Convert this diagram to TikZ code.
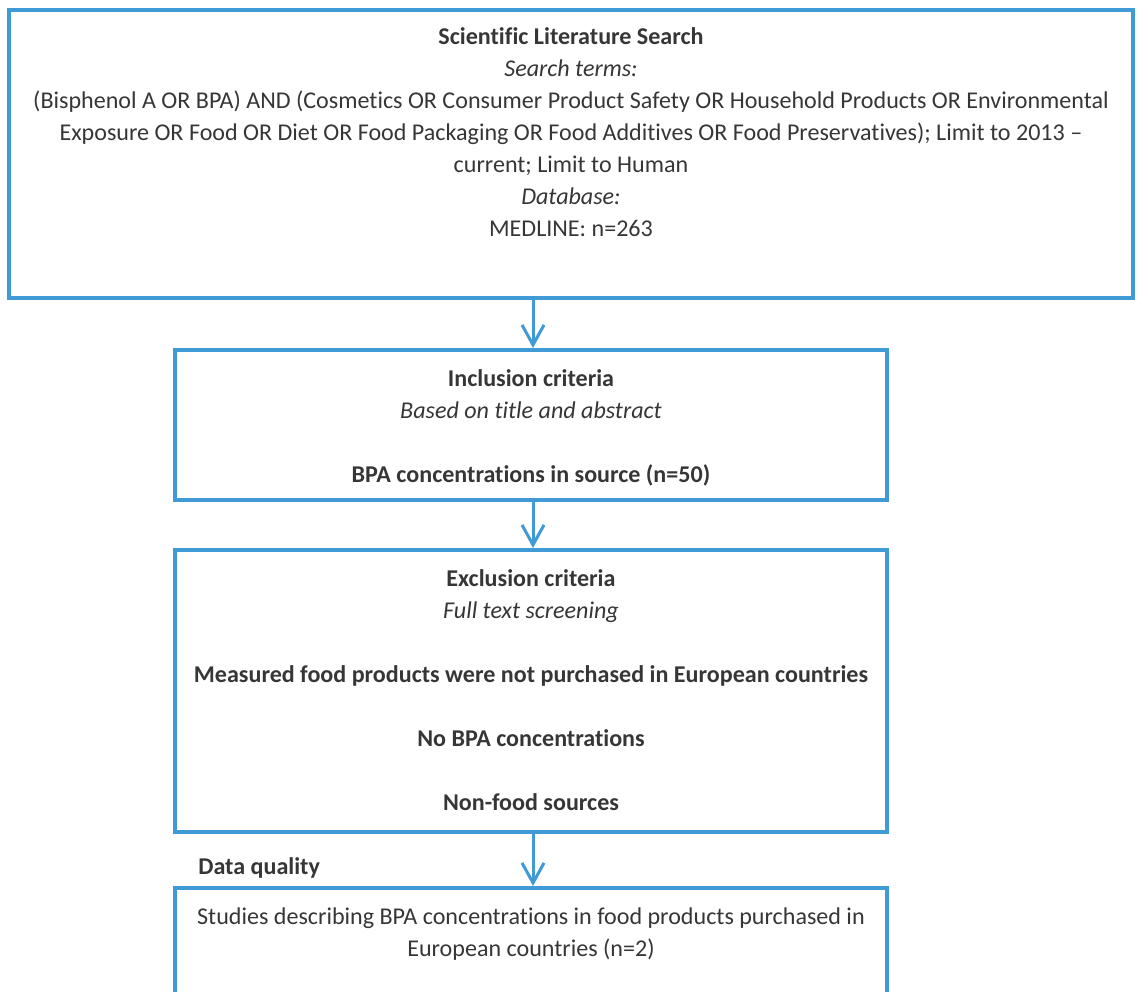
\documentclass[tikz,border=0pt]{standalone}
\usepackage{fontspec}
\setmainfont{Carlito}[Ligatures=NoCommon]
\usetikzlibrary{positioning,arrows.meta}
\definecolor{boxblue}{HTML}{3F9AD6}
\definecolor{txtgrey}{HTML}{363636}

\begin{document}
\begin{tikzpicture}[
		box/.style={draw=boxblue,line width=0.08cm,minimum width=14.24cm,inner sep=0pt},
		txt/.style={align=center,inner sep=0pt,text=txtgrey,font=\fontsize{13.7}{18.2}\selectfont},
		flow/.style={draw=boxblue,line width=0.06cm,-{Straight Barb[length=0.4cm,width=0.44cm]}}
	]
	\clip (0,0) rectangle (22.78,-19.84);

	\node[box,minimum width=22.48cm,minimum height=5.76cm] (search) at (11.42,-3.08) {};
	\node[box,minimum height=3.0cm] (incl) at (10.62,-8.5) {};
	\node[box,minimum height=5.64cm] (excl) at (10.62,-13.82) {};
	\node[box,minimum height=2.4cm] (result) at (10.62,-18.96) {};

	\node[txt,below=0.39cm of search.north] (searchtxt) {\textbf{Scientific Literature Search}\\
		\textit{Search terms:}\\
		(Bisphenol A OR BPA) AND (Cosmetics OR Consumer Product Safety OR Household Products OR Environmental\\
		Exposure OR Food OR Diet OR Food Packaging OR Food Additives OR Food Preservatives); Limit to 2013 --\\
		current; Limit to Human\\
		\textit{Database:}\\
		MEDLINE: n=263};
	\node[txt,below=0.42cm of incl.north] (incltxt) {\textbf{Inclusion criteria}\\
		\textit{Based on title  and abstract}\\[18.2pt]
		\textbf{BPA concentrations in source (n=50)}};
	\node[txt,below=0.42cm of excl.north] (excltxt) {\textbf{Exclusion criteria}\\
		\textit{Full text screening}\\[18.2pt]
		\textbf{Measured food products were not purchased in European countries}\\[18.2pt]
		\textbf{No BPA concentrations}\\[18.2pt]
		\textbf{Non-food sources}};
	\node[txt,anchor=west] (quality) at (3.96,-17.36) {\textbf{Data quality}};
	\node[txt,below=0.42cm of result.north] (resulttxt) {Studies describing BPA concentrations in food products purchased in\\
		European countries (n=2)};

	\draw[flow] (search.south -| 10.66,0) -- (incl.north -| 10.66,0);
	\draw[flow] (incl.south -| 10.66,0) -- (excl.north -| 10.66,0);
	\draw[flow] (excl.south -| 10.66,0) -- (result.north -| 10.66,0);
\end{tikzpicture}
\end{document}
